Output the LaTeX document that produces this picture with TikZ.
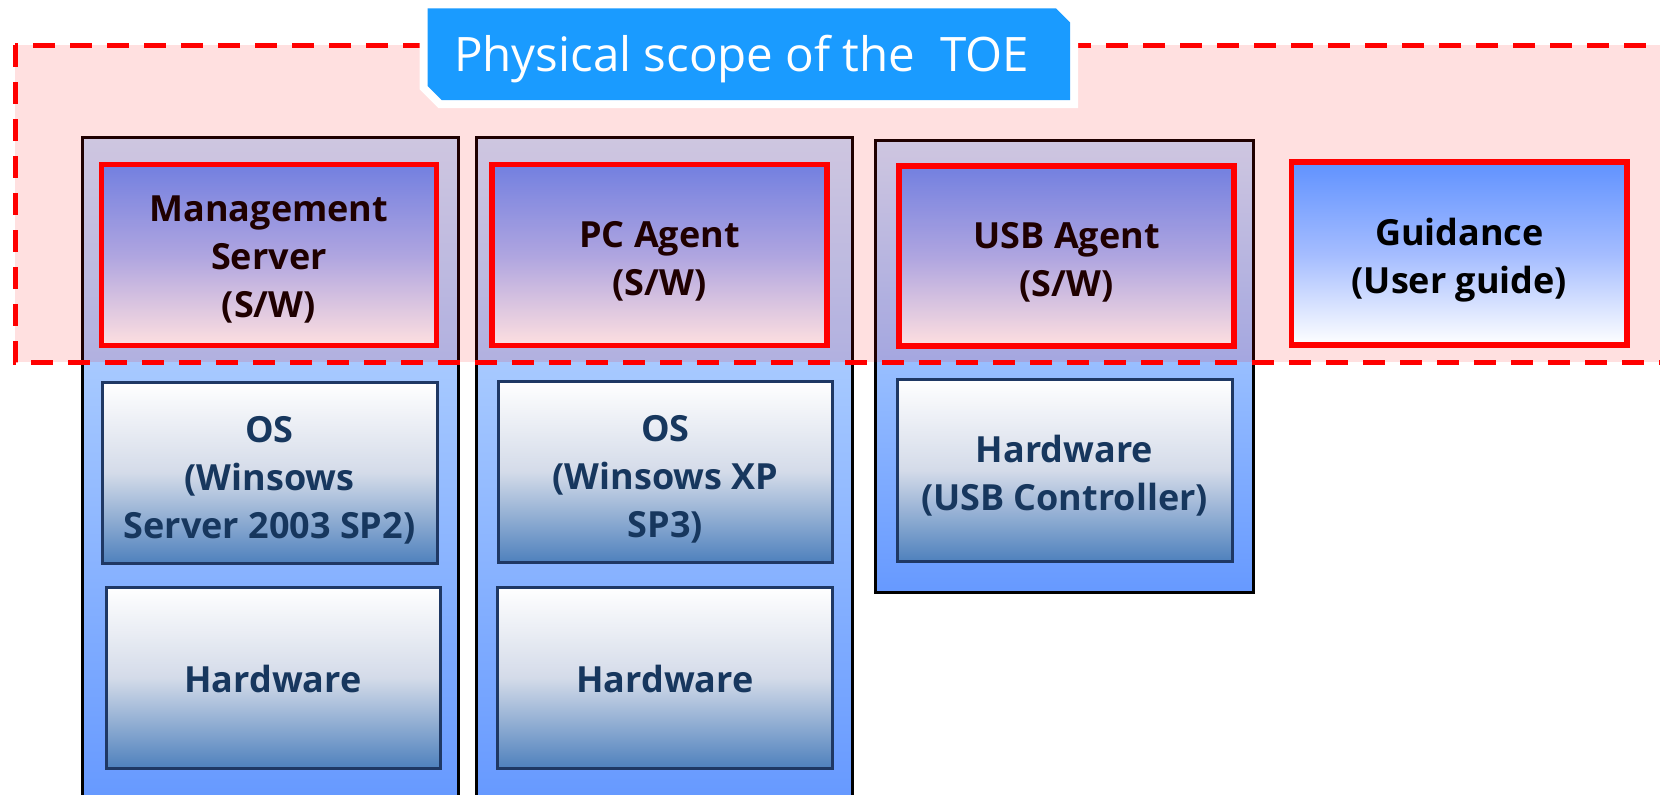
\documentclass[tikz,border=0pt]{standalone}
\usepackage{fontspec}
\setmainfont{Open Sans}

\definecolor{colTop}{RGB}{200,226,255}
\definecolor{colBot}{RGB}{102,153,255}
\definecolor{envMid}{RGB}{212,219,233}
\definecolor{envBot}{RGB}{79,129,189}
\definecolor{envLine}{RGB}{31,56,100}
\definecolor{envText}{RGB}{23,55,94}
\definecolor{toeTop}{RGB}{96,146,255}
\definecolor{toeMid}{RGB}{164,188,255}
\definecolor{bannerBlue}{RGB}{26,155,255}
\definecolor{scopeRed}{RGB}{255,0,0}

\newcommand\lblfont{\fontsize{36}{48}\selectfont\bfseries}

\tikzset{
  column/.style={draw=black, line width=3pt, top color=colTop, bottom color=colBot,
    inner sep=0pt},
  toebox/.style={draw=scopeRed, line width=5.5pt, top color=toeTop, bottom color=white,
    middle color=toeMid, minimum width=335pt, minimum height=181pt, inner sep=0pt},
  envbox/.style={draw=envLine, line width=3pt, top color=white, bottom color=envBot,
    middle color=envMid, minimum width=334pt, minimum height=181pt, inner sep=0pt},
  boxtext/.style={align=center, font=\lblfont, inner sep=0pt, yshift=-6pt},
  toetext/.style={boxtext, text=black},
  envtext/.style={boxtext, text=envText},
  scopeline/.style={draw=scopeRed, line width=5pt, dash pattern=on 22pt off 15pt},
  scopefill/.style={fill=scopeRed, fill opacity=0.12},
  banner/.style={fill=bannerBlue, preaction={draw=white, line width=16pt, line join=miter}},
  bannertext/.style={text=white, font=\fontsize{47.5}{56}\selectfont, inner sep=0pt}
}

\begin{document}
\begin{tikzpicture}[x=1pt, y=-1pt]
\useasboundingbox (0,0) rectangle (1660,795);
\clip (0,0) rectangle (1660,795);
\fill[white] (0,0) rectangle (1660,795);

% platform columns
\node[column, minimum width=375.8pt, minimum height=664pt] (col1) at (270.5,469.6) {};
\node[column, minimum width=375.9pt, minimum height=664pt] (col2) at (664.4,469.6) {};
\node[column, minimum width=378pt, minimum height=452pt] (col3) at (1064.5,366.9) {};

% TOE software components
\node[toebox, label={[toetext, name=mgmt-t, yshift=2pt]center:Management\\Server\\(S/W)}]
  (mgmt) at (268.9,255.2) {};
\node[toebox, label={[toetext, name=pcagent-t]center:PC Agent\\(S/W)}]
  (pcagent) at (659.6,255.2) {};
\node[toebox, minimum height=180pt, label={[toetext, name=usbagent-t]center:USB Agent\\(S/W)}]
  (usbagent) at (1066.7,256.2) {};

% environment layers
\node[envbox, minimum width=335pt,
  label={[envtext, name=os1-t, yshift=-2pt]center:OS\\(Winsows\\Server 2003 SP2)}]
  (os1) at (269.5,472.5) {};
\node[envbox, label={[envtext, name=hw1-t, yshift=5pt]center:Hardware}]
  (hw1) at (273,677.5) {};
\node[envbox, minimum width=333.5pt,
  label={[envtext, name=os2-t, yshift=-2pt]center:OS\\(Winsows XP\\SP3)}]
  (os2) at (665.4,471.5) {};
\node[envbox, minimum width=334.5pt, label={[envtext, name=hw2-t, yshift=5pt]center:Hardware}]
  (hw2) at (664.9,677.6) {};
\node[envbox, minimum width=335pt, minimum height=182pt,
  label={[envtext, name=hw3-t]center:Hardware\\(USB Controller)}]
  (hw3) at (1064.5,470) {};

% physical scope of the TOE
\fill[scopefill] (15,45) rectangle (1700,362);
\draw[scopeline] (15,45) -- (15,362) -- (1700,362);
\draw[scopeline, dash phase=19pt] (15,45) -- (1700,45);

% guidance document
\node[toebox, minimum width=335.6pt, minimum height=183pt,
  label={[toetext, name=guide-t, yshift=-1pt]center:Guidance\\(User guide)}]
  (guide) at (1459.4,253.6) {};

% title banner
\path[banner] (427.7,8.3) -- (1056,8.3) -- (1070,22.3) -- (1070,100) -- (441.7,100)
  -- (427.7,86) -- cycle;
\node[bannertext, anchor=base] (title) at (741.5,71.7) {Physical scope of the~~TOE};
\end{tikzpicture}
\end{document}
